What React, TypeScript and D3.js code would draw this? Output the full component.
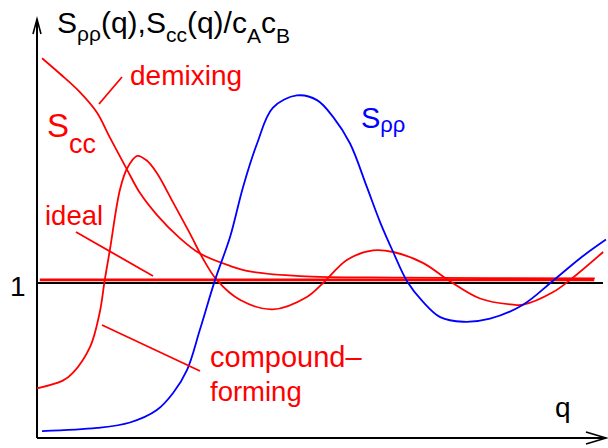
import React from "react";
import * as d3 from "d3";

// Wavenumber samples (arbitrary units) and structure-factor values
const demixQ = [0.09, 0.41, 0.77, 1.07, 1.3, 1.61, 1.84, 2.14, 2.55, 2.91, 3.45, 3.8, 4.7, 6.48, 9.96];
const demixS = [2.45, 2.35, 2.23, 2.1, 1.94, 1.73, 1.58, 1.44, 1.29, 1.19, 1.11, 1.075, 1.045, 1.035, 1.03];

const compoundQ = [0, 0.46, 0.64, 0.95, 1.12, 1.21, 1.3, 1.48, 1.61, 1.79, 1.96, 2.14, 2.43, 2.73, 2.96, 3.21, 3.63, 4.21, 4.82, 5.11, 5.54, 6.0, 6.36, 6.89, 7.38, 7.91, 8.5, 8.68, 9.21, 9.52, 10.11];
const compoundS = [0.32, 0.37, 0.42, 0.59, 0.81, 1.02, 1.21, 1.6, 1.74, 1.82, 1.79, 1.71, 1.52, 1.32, 1.16, 1.02, 0.89, 0.83, 0.91, 1.0, 1.15, 1.21, 1.2, 1.13, 1.01, 0.9, 0.86, 0.86, 0.94, 1.02, 1.2];

const rhoQ = [0.09, 1.07, 1.66, 2.14, 2.43, 2.68, 2.91, 3.18, 3.45, 3.68, 3.93, 4.21, 4.64, 5.0, 5.29, 5.59, 5.89, 6.13, 6.36, 6.61, 6.89, 7.2, 7.61, 8.09, 8.68, 9.2, 9.7, 10.16];
const rhoS = [0.045, 0.065, 0.1, 0.18, 0.29, 0.44, 0.7, 1.02, 1.3, 1.62, 1.9, 2.13, 2.21, 2.18, 2.07, 1.9, 1.62, 1.39, 1.2, 1.01, 0.88, 0.78, 0.75, 0.77, 0.86, 1.01, 1.16, 1.28];

// Ideal-mixture reference (drawn just above unity so it stays visible)
const idealQ = [0.05, 9.95];
const idealS = [1.02, 1.02];

const unityS = 1;

const W = 608;
const H = 448;
const FONT = "'Liberation Sans', Arial, Helvetica, sans-serif";
const RED = "#ff0000";
const BLUE = "#0000ff";

const x = d3.scaleLinear().domain([0, 10]).range([37, 597]);
const y = d3.scaleLinear().domain([0, 1]).range([438, 283]);

type Pt = [number, number];
const zip = (qs: number[], ss: number[]): Pt[] => qs.map((q, i) => [q, ss[i]]);

const line = d3
  .line<Pt>()
  .x((d) => x(d[0]))
  .y((d) => y(d[1]))
  .curve(d3.curveCatmullRom.alpha(0.5));

const straight = d3
  .line<Pt>()
  .x((d) => x(d[0]))
  .y((d) => y(d[1]));

export default function App() {
  const x0 = x(0);
  const y0 = y(0);
  return (
    <svg
      width={W}
      height={H}
      style={{ position: "absolute", left: 0, top: 0, background: "#fff" }}
      fontFamily={FONT}
    >
      {/* axes */}
      <line x1={x0} y1={y0} x2={x0} y2={19} stroke="#000" strokeWidth={2} />
      <polyline points={`${x0 - 4},34 ${x0},19 ${x0 + 4},34`} fill="none" stroke="#000" strokeWidth={1.6} />
      <line x1={x0} y1={y0} x2={606} y2={y0} stroke="#000" strokeWidth={2} />
      <polyline points={`586,${y0 - 6} 606,${y0} 586,${y0 + 6}`} fill="none" stroke="#000" strokeWidth={1.6} />

      {/* unity line */}
      <line x1={x0} y1={y(unityS)} x2={603} y2={y(unityS)} stroke="#000" strokeWidth={2} />

      {/* ideal */}
      <path d={straight(zip(idealQ, idealS)) || ""} stroke={RED} strokeWidth={2.6} fill="none" />

      {/* curves */}
      <path d={line(zip(demixQ, demixS)) || ""} stroke={RED} strokeWidth={1.8} fill="none" />
      <path d={line(zip(compoundQ, compoundS)) || ""} stroke={RED} strokeWidth={1.8} fill="none" />
      <path d={line(zip(rhoQ, rhoS)) || ""} stroke={BLUE} strokeWidth={1.8} fill="none" />

      {/* leader lines */}
      <line x1={99} y1={104} x2={122} y2={77} stroke={RED} strokeWidth={1.8} />
      <line x1={76} y1={232} x2={153} y2={276} stroke={RED} strokeWidth={1.8} />
      <line x1={102} y1={325} x2={200} y2={371} stroke={RED} strokeWidth={1.8} />

      {/* title */}
      <text x={57} y={33} fontSize={30} fill="#000">
        S<tspan fontSize={21} dy={8}>ρρ</tspan>
        <tspan dy={-8}>(q),S</tspan>
        <tspan fontSize={21} dy={9}>cc</tspan>
        <tspan dy={-9}>(q)/c</tspan>
        <tspan fontSize={21} dy={10}>A</tspan>
        <tspan dy={-10}>c</tspan>
        <tspan fontSize={21} dy={10}>B</tspan>
      </text>

      {/* labels */}
      <text x={10} y={296} fontSize={28} fill="#000">1</text>
      <text x={555} y={417} fontSize={28} fill="#000">q</text>

      <text x={361} y={128} fontSize={29} fill={BLUE}>
        S<tspan fontSize={22} dy={4}>ρρ</tspan>
      </text>

      <text x={47} y={137} fontSize={33} fill={RED}>
        S<tspan fontSize={27} dy={16}>cc</tspan>
      </text>

      <text x={130} y={85} fontSize={28} fill={RED}>demixing</text>
      <text x={45} y={225} fontSize={27.5} fill={RED}>ideal</text>
      <text x={210} y={367} fontSize={29} fill={RED}>compound–</text>
      <text x={210} y={401} fontSize={27.5} fill={RED}>forming</text>
    </svg>
  );
}
